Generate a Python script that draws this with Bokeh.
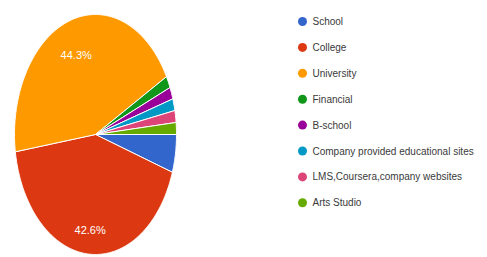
import numpy as np
from bokeh.plotting import figure
from bokeh.models import Range1d
from bokeh.core.properties import value
from bokeh.embed import file_html
from bokeh.resources import INLINE

# ---- data ----
categories = ["School", "College", "University", "Financial", "B-school",
              "Company provided educational sites", "LMS,Coursera,company websites",
              "Arts Studio"]
shares = [5.1, 42.6, 44.3, 1.6, 1.6, 1.6, 1.6, 1.6]
colors = ["#3366cc", "#dc3912", "#ff9900", "#109618", "#990099", "#0099c6",
          "#dd4477", "#66aa00"]

W, H = 487, 257
cx_px, cy_px, rx_px, ry_px = 95, 134, 81, 120

p = figure(width=W, height=H, output_backend="svg", toolbar_location=None,
           min_border=0, x_range=Range1d(-cx_px / rx_px, (W - cx_px) / rx_px),
           y_range=Range1d(-(H - cy_px) / ry_px, cy_px / ry_px))
p.axis.visible = False
p.grid.visible = False
p.outline_line_color = None
p.background_fill_color = "white"
p.border_fill_color = "white"

# ---- pie slices (clockwise from 3 o'clock) ----
total = float(sum(shares))
fr = np.array(shares) / total
ends = np.cumsum(fr) * 2 * np.pi
starts = ends - fr * 2 * np.pi
xs, ys = [], []
for a0, a1 in zip(starts, ends):
    t = np.linspace(a0, a1, max(4, int((a1 - a0) / 0.01)))
    xs.append([0.0] + list(np.cos(t)) + [0.0])
    ys.append([0.0] + list(-np.sin(t)) + [0.0])
p.patches(xs, ys, fill_color=colors, line_color="white", line_width=1)

# ---- percentage labels ----
mids = (starts + ends) / 2
lab = [i for i, f in enumerate(fr) if f > 0.1]
p.text(x=[0.75 * np.cos(mids[i]) for i in lab],
       y=[-0.75 * np.sin(mids[i]) for i in lab],
       text=[f"{shares[i]:.1f}%" for i in lab],
       text_color="white", text_font=value("Liberation Sans"),
       text_font_size="11px", text_align="center", text_baseline="top")

# ---- legend ----
leg_x = (302 - cx_px) / rx_px
txt_x = (312 - cx_px) / rx_px
rows_px = [21 + 25.9 * i for i in range(len(categories))]
leg_y = [(cy_px - r) / ry_px for r in rows_px]
p.scatter(x=[leg_x] * len(categories), y=leg_y, size=9, marker="circle",
          fill_color=colors, line_color=None)
p.text(x=[txt_x] * len(categories), y=leg_y, text=categories,
       text_color="#3a3a3a", text_font=value("Liberation Sans"),
       text_font_size="10px", text_baseline="middle", text_align="left")

open("out.html", "w").write(file_html(p, INLINE))
